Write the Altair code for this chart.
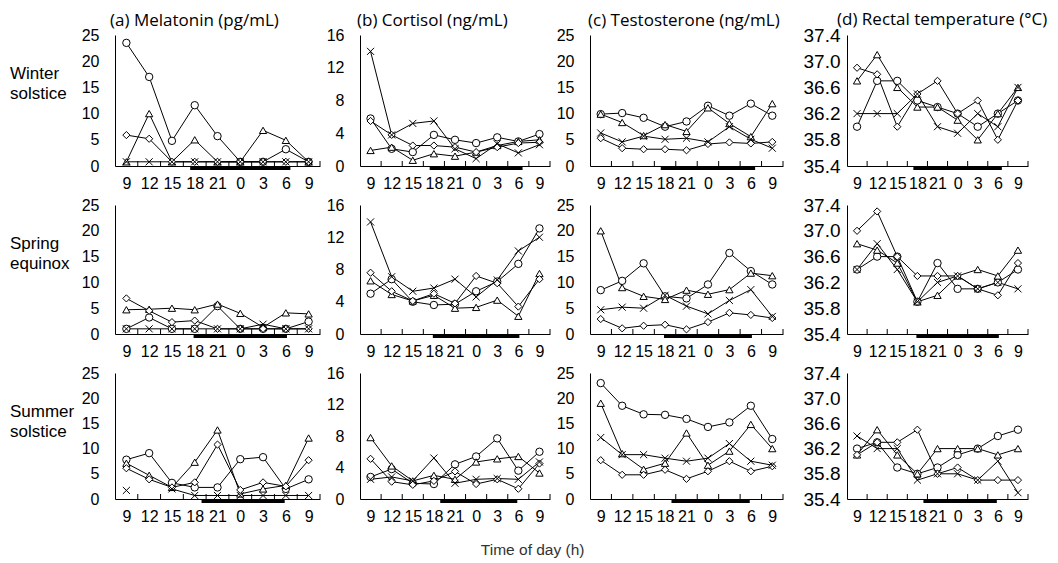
import altair as alt
import pandas as pd

hours = ["9", "12", "15", "18", "21", "0", "3", "6", "9"]
series_names = ["circle", "triangle", "diamond", "cross"]
row_labels = ["Winter\nsolstice", "Spring\nequinox", "Summer\nsolstice"]
col_titles = ["(a) Melatonin (pg/mL)", "(b) Cortisol (ng/mL)",
              "(c) Testosterone (ng/mL)", "(d) Rectal temperature (\u00b0C)"]

# ---- Melatonin (pg/mL)
mel_win = {"circle": [23.5, 17.0, 4.8, 11.6, 5.7, 0.8, 0.8, 3.2, 0.8],
           "triangle": [0.8, 10.0, 0.8, 5.0, 0.8, 0.8, 6.8, 4.9, 0.8],
           "diamond": [5.9, 5.2, 0.8, 0.8, 0.8, 0.8, 0.8, 0.8, 0.8],
           "cross": [0.8, 0.8, 0.8, 0.8, 0.8, 0.8, 0.8, 0.8, 0.8]}
mel_spr = {"circle": [1.0, 3.2, 1.0, 1.0, 5.4, 1.0, 1.0, 1.0, 2.4],
           "triangle": [4.7, 4.8, 5.0, 4.7, 5.8, 4.0, 1.3, 4.1, 3.9],
           "diamond": [6.9, 4.5, 2.3, 2.6, 1.0, 1.0, 1.0, 1.0, 1.0],
           "cross": [1.0, 1.0, 1.0, 1.0, 1.0, 1.0, 1.9, 1.0, 1.0]}
mel_sum = {"circle": [7.8, 9.1, 3.2, 2.3, 2.3, 7.9, 8.3, 2.0, 3.9],
           "triangle": [7.1, 4.7, 2.3, 7.3, 13.7, 1.0, 2.0, 2.7, 12.1],
           "diamond": [6.1, 3.9, 2.3, 3.3, 10.8, 1.8, 3.3, 2.5, 7.7],
           "cross": [1.7, None, 2.0, 0.7, 0.7, 0.7, 0.7, 0.7, 0.7]}

# ---- Cortisol (ng/mL)
cort_win = {"circle": [5.8, 2.1, 1.7, 3.8, 3.2, 2.8, 3.5, 3.0, 3.9],
            "triangle": [1.9, 2.3, 0.7, 1.5, 1.2, 1.7, 2.5, 3.0, 3.2],
            "diamond": [5.5, 3.8, 2.5, 2.5, 2.3, 1.7, 2.3, 2.8, 2.9],
            "cross": [14.0, 3.8, 5.2, 5.5, 2.1, 0.9, 2.7, 1.6, 2.6]}
cort_spr = {"circle": [5.0, 6.8, 4.0, 3.6, 3.7, 5.3, 6.5, 8.7, 13.1],
            "triangle": [6.6, 4.9, 4.1, 4.8, 3.2, 3.3, 4.2, 2.2, 7.5],
            "diamond": [7.6, 5.3, 4.1, 5.0, 3.8, 7.2, 6.3, 3.4, 6.8],
            "cross": [13.9, 7.1, 5.3, 5.7, 6.8, 4.6, 6.7, 10.3, 12.0]}
cort_sum = {"circle": [2.8, 3.8, 2.0, 1.9, 4.4, 5.4, 7.7, 3.6, 6.0],
            "triangle": [7.8, 4.2, 2.3, 3.0, 2.5, 4.7, 5.1, 5.4, 3.3],
            "diamond": [5.1, 2.2, 1.8, 2.3, 3.5, 1.9, 2.5, 1.3, 4.5],
            "cross": [2.5, 2.8, 2.3, 5.2, 2.0, 2.5, 2.6, 2.5, 4.7]}

# ---- Testosterone (ng/mL)
test_win = {"circle": [9.9, 10.1, 9.2, 7.5, 8.5, 11.5, 9.6, 11.9, 9.6],
            "triangle": [9.9, 8.3, 5.8, 7.9, 6.6, 11.1, 8.1, 5.6, 11.9],
            "diamond": [5.3, 3.4, 3.2, 3.2, 3.0, 4.2, 4.5, 4.3, 4.6],
            "cross": [6.3, 4.6, 5.7, 5.1, 5.3, 4.6, 7.5, 5.1, 3.4]}
test_spr = {"circle": [8.5, 10.3, 13.7, 7.3, 6.9, 9.6, 15.7, 12.2, 9.6],
            "triangle": [20.0, 9.0, 7.3, 6.7, 8.5, 7.7, 8.6, 11.8, 11.3],
            "diamond": [2.9, 1.1, 1.6, 1.8, 0.9, 2.3, 4.1, 3.7, 3.1],
            "cross": [4.7, 5.2, 5.0, 7.5, 5.4, 3.9, 6.5, 8.6, 3.4]}
test_sum = {"circle": [23.0, 18.5, 16.8, 16.7, 15.9, 14.3, 15.2, 18.5, 11.9],
            "triangle": [19.0, 9.0, 5.9, 7.1, 13.1, 6.7, 9.5, 14.8, 10.0],
            "diamond": [7.7, 4.8, 4.8, 5.8, 4.0, 5.5, 7.5, 5.5, 6.5],
            "cross": [12.2, 8.8, 8.8, 8.1, 7.5, 8.1, 11.0, 7.5, 6.7]}

# ---- Rectal temperature (deg C)
temp_win = {"circle": [36.0, 36.7, 36.7, 36.4, 36.3, 36.2, 36.0, 36.2, 36.4],
            "triangle": [36.7, 37.1, 36.6, 36.3, 36.3, 36.1, 35.8, 36.2, 36.6],
            "diamond": [36.9, 36.8, 36.0, 36.5, 36.7, 36.2, 36.4, 35.8, 36.4],
            "cross": [36.2, 36.2, 36.2, 36.5, 36.0, 35.9, 36.2, 36.0, 36.6]}
temp_spr = {"circle": [36.4, 36.6, 36.6, 35.9, 36.5, 36.1, 36.1, 36.2, 36.4],
            "triangle": [36.8, 36.7, 36.5, 35.9, 36.0, 36.3, 36.4, 36.3, 36.7],
            "diamond": [37.0, 37.3, 36.6, 36.3, 36.3, 36.3, 36.1, 36.0, 36.5],
            "cross": [36.4, 36.8, 36.4, 35.9, 36.2, 36.3, 36.1, 36.2, 36.1]}
temp_sum = {"circle": [36.2, 36.3, 35.9, 35.8, 35.9, 36.1, 36.2, 36.4, 36.5],
            "triangle": [36.1, 36.5, 36.1, 35.8, 36.2, 36.2, 36.2, 36.1, 36.2],
            "diamond": [36.1, 36.3, 36.3, 36.5, 35.8, 35.9, 35.7, 35.7, 35.7],
            "cross": [36.4, 36.2, 36.2, 35.7, 35.8, 35.8, 35.7, 36.0, 35.5]}

panels = [[mel_win, cort_win, test_win, temp_win],
          [mel_spr, cort_spr, test_spr, temp_spr],
          [mel_sum, cort_sum, test_sum, temp_sum]]

# night (dark period) bar, in time-point index units, per season
night_start = [2.8, 2.95, 3.3]
night_end = [7.2, 7.05, 6.95]

y_domains = [[0, 25], [0, 16], [0, 25], [35.4, 37.4]]
y_ticks = [[0, 5, 10, 15, 20, 25], [0, 4, 8, 12, 16], [0, 5, 10, 15, 20, 25],
           [35.4, 35.8, 36.2, 36.6, 37.0, 37.4]]
y_formats = ["d", "d", "d", ".1f"]
x_tick_pos = [0.5, 1.5, 2.5, 3.5, 4.5, 5.5, 6.5, 7.5, 8.5]

widths = [205, 190, 193, 181]
heights = [131, 129, 126]
gap_after = [20, 20, 44]      # spacer widths between panels (plus 2x spacing)
ylab_pad = [16, 16, 16, 7]
ylab_size = [16, 16, 16, 19]
title_dx = [-5, -3, -2, -10]

shape_range = ["circle", "triangle-up", "diamond", "M-1,-1L1,1M-1,1L1,-1"]
size_range = [55, 50, 30, 40]

FONT = "Liberation Sans"
label_expr = "[" + ",".join("'%s'" % h for h in hours) + "][datum.value]"


def make_panel(r, c):
    W, H = widths[c], heights[r]
    vals = panels[r][c]
    recs = []
    for s in series_names:
        seg = 0
        for i, v in enumerate(vals[s]):
            if v is None:
                seg += 1
                continue
            recs.append({"idx": i, "value": v, "series": s, "key": "%s-%d" % (s, seg)})
    df = pd.DataFrame(recs)

    x = alt.X("idx:Q", scale=alt.Scale(domain=[-0.5, 8.5], nice=False, zero=False),
              axis=alt.Axis(values=list(range(9)), labelExpr=label_expr, ticks=False,
                            grid=False, title=None, labelPadding=9, labelAngle=0,
                            labelOverlap=False, labelFlush=False, labelBound=False,
                            labelFontSize=16))
    y = alt.Y("value:Q", scale=alt.Scale(domain=y_domains[c], nice=False, zero=False),
              axis=alt.Axis(values=y_ticks[c], format=y_formats[c], ticks=False,
                            grid=False, title=None, labelPadding=ylab_pad[c],
                            labelFontSize=ylab_size[c], labelFlush=False, labelOverlap=False))

    night = alt.Chart(pd.DataFrame({"idx": [night_start[r]], "idx2": [night_end[r]]})).mark_rect(
        color="black").encode(x=x, x2="idx2:Q", y=alt.value(H), y2=alt.value(H + 4))
    ticks = alt.Chart(pd.DataFrame({"idx": x_tick_pos})).mark_rule(
        color="black", strokeWidth=1).encode(x=x, y=alt.value(H), y2=alt.value(H - 5))
    lines = alt.Chart(df).mark_line(color="black", strokeWidth=1).encode(
        x=x, y=y, detail="key:N", order="idx:Q")
    pts = alt.Chart(df).mark_point(filled=True, fill="white", stroke="black",
                                   strokeWidth=1, opacity=1).encode(
        x=x, y=y,
        shape=alt.Shape("series:N", scale=alt.Scale(domain=series_names, range=shape_range), legend=None),
        size=alt.Size("series:N", scale=alt.Scale(domain=series_names, range=size_range), legend=None))
    layers = [night, ticks, lines, pts]
    if c == 0:
        lab = alt.Chart(pd.DataFrame({"label": [row_labels[r]]})).mark_text(
            align="left", baseline="top", lineBreak="\n", fontSize=17, font=FONT,
            color="black", lineHeight=20).encode(
            x=alt.value(-105), y=alt.value(31), text="label:N")
        layers.append(lab)
    ch = alt.layer(*layers).properties(width=W, height=H)
    if r == 0:
        ch = ch.properties(title=alt.TitleParams(
            col_titles[c], anchor="start", frame="group", dx=title_dx[c],
            fontSize=17, font="Open Sans", fontWeight="normal", color="black", offset=-3))
    return ch


def spacer(w, h):
    return alt.Chart(pd.DataFrame({"z": [0]})).mark_point(opacity=0).encode(
        x=alt.value(0), y=alt.value(0)).properties(width=w, height=h)


rows = []
for r in range(3):
    items = []
    for c in range(4):
        items.append(make_panel(r, c))
        if c < 3:
            items.append(spacer(gap_after[c], heights[r]))
    rows.append(alt.hconcat(*items, spacing=10, bounds="flush"))

chart = alt.vconcat(*rows, spacing=5).properties(
    title=alt.TitleParams("Time of day (h)", orient="bottom", anchor="middle", dx=4,
                          fontSize=15.5, font=FONT, fontWeight="normal", color="#333333",
                          offset=19),
    padding={"left": 2, "top": 3, "right": 0, "bottom": 0},
).configure_view(stroke=None).configure_axis(
    domainColor="black", domainWidth=1, labelColor="black", labelFont=FONT)

chart.save("out.html", embed_options={"renderer": "svg", "actions": False})
